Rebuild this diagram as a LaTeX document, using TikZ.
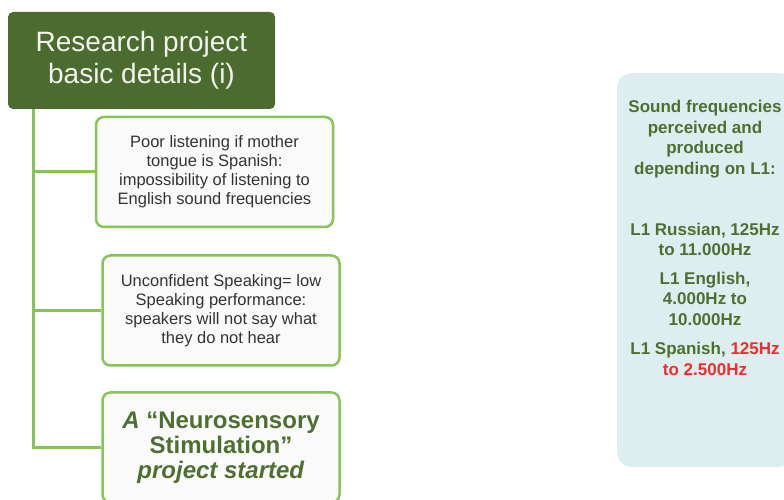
\documentclass[tikz,border=0pt]{standalone}
\usepackage{fontspec}
\setmainfont{Liberation Sans}
\usepackage{tikz}
\usetikzlibrary{positioning}

\begin{document}
\begin{tikzpicture}[x=1pt, y=1pt]
        \definecolor{titlegreen}{HTML}{4B6B2F}
        \definecolor{linegreen}{HTML}{86C45A}
        \definecolor{textgreen}{HTML}{4D7030}
        \definecolor{panelblue}{HTML}{DDEEF0}
        \definecolor{alertred}{HTML}{F02C2C}
        \clip (0,0) rectangle (784,500);

        \node[rounded corners=5pt, fill=titlegreen, text=white!92!titlegreen, minimum width=267pt, minimum height=97pt, inner sep=0pt, align=center, font=\fontsize{28}{32}\selectfont] (T) at (141.5,439.5) {Research project\\basic details (i)};

        \begin{scope}[every node/.style={rounded corners=8pt, draw=linegreen, line width=2.5pt, fill=white!98!black, minimum width=237pt, minimum height=110pt, inner sep=0pt, align=center}]
            \node[text=black!80, font=\fontsize{16.5}{19}\selectfont] (A) at (214.5,328) {Poor listening if mother\\tongue is Spanish:\\impossibility of listening to\\English sound frequencies};
            \node[text=black!80, font=\fontsize{16.5}{19}\selectfont] (B) at (221,189.5) {Unconfident Speaking= low\\Speaking performance:\\speakers will not say what\\they do not hear};
            \node[text=textgreen, font=\fontsize{24}{25}\selectfont\bfseries] (C) at (221,52.5) {\textit{A} “Neurosensory\\Stimulation”\\\textit{project started}};
        \end{scope}

        \coordinate[right=25.5pt of T.south west] (T_trunk);
        \draw[linegreen, line width=3pt] (T_trunk) |- (C.west);
        \draw[linegreen, line width=3pt] (T_trunk |- A.west) -- (A.west);
        \draw[linegreen, line width=3pt] (T_trunk |- B.west) -- (B.west);

        \node[rounded corners=15pt, fill=panelblue, minimum width=176pt, minimum height=394pt, inner sep=0pt] (F) at (705,230) {};
        \node[below=27pt of F.north, inner sep=0pt, align=center, text=textgreen, font=\fontsize{17}{20.7}\selectfont\bfseries] (F_text) {Sound frequencies\\perceived and\\produced\\depending on L1:\\[40pt] L1 Russian, 125Hz\\to 11.000Hz\\[7.5pt] L1 English,\\4.000Hz to\\10.000Hz\\[8.5pt] L1 Spanish, \textcolor{alertred}{125Hz}\\\textcolor{alertred}{to 2.500Hz}};
\end{tikzpicture}
\end{document}
